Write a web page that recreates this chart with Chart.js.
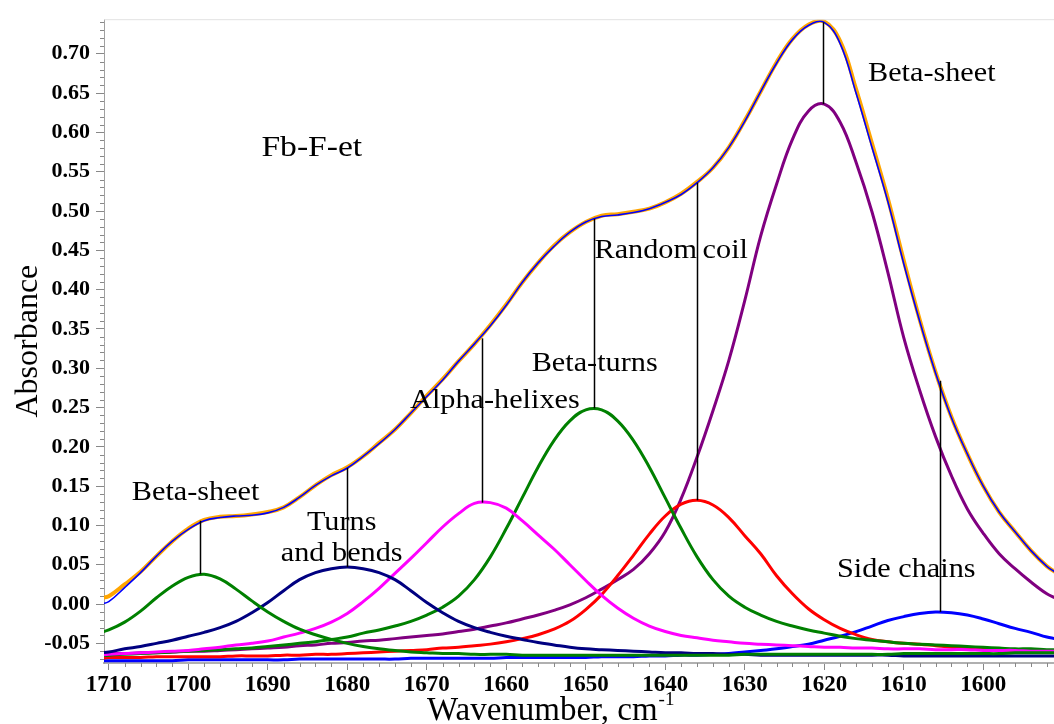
<!DOCTYPE html>
<html>
<head>
<meta charset="utf-8">
<script src="https://cdn.jsdelivr.net/npm/chart.js@4.4.1/dist/chart.umd.min.js"></script>
<style>
  html, body { margin: 0; padding: 0; background: #fff; }
</style>
</head>
<body>
<canvas id="grafica_ftir" width="1054" height="724"></canvas>
<script>
// wavenumber grid, cm-1
const wavenumbers = [
  1711, 1710, 1708, 1706, 1704, 1702, 1700, 1698, 1696, 1694,
  1692, 1690, 1688, 1686, 1684, 1682, 1680, 1678, 1676, 1674,
  1672, 1670, 1668, 1666, 1664, 1662, 1660, 1658, 1656, 1654,
  1652, 1650, 1648, 1646, 1644, 1642, 1640, 1638, 1636, 1634,
  1632, 1630, 1628, 1626, 1624, 1622, 1620, 1618, 1616, 1614,
  1612, 1610, 1608, 1606, 1604, 1602, 1600, 1598, 1596, 1594,
  1592, 1591
];

// summed fit (blue)
const fitted = [
  0.000, 0.003, 0.021, 0.040, 0.061, 0.080, 0.095, 0.106, 0.110, 0.112,
  0.113, 0.116, 0.123, 0.136, 0.151, 0.163, 0.173, 0.188, 0.204, 0.222,
  0.243, 0.264, 0.285, 0.309, 0.331, 0.354, 0.380, 0.409, 0.434, 0.455,
  0.473, 0.486, 0.493, 0.495, 0.498, 0.503, 0.511, 0.521, 0.536, 0.555,
  0.581, 0.614, 0.652, 0.688, 0.718, 0.736, 0.740, 0.713, 0.650, 0.581,
  0.512, 0.433, 0.360, 0.294, 0.237, 0.191, 0.150, 0.117, 0.092, 0.068,
  0.048, 0.041
];

// measured spectrum (orange)
const measured = [
  0.008, 0.010, 0.025, 0.041, 0.061, 0.080, 0.096, 0.107, 0.111, 0.112,
  0.114, 0.117, 0.123, 0.136, 0.151, 0.164, 0.174, 0.188, 0.205, 0.222,
  0.243, 0.265, 0.286, 0.309, 0.331, 0.355, 0.381, 0.409, 0.434, 0.456,
  0.473, 0.486, 0.494, 0.496, 0.499, 0.503, 0.511, 0.522, 0.537, 0.555,
  0.581, 0.615, 0.652, 0.689, 0.719, 0.737, 0.741, 0.716, 0.655, 0.586,
  0.516, 0.437, 0.362, 0.295, 0.238, 0.191, 0.150, 0.117, 0.092, 0.068,
  0.048, 0.041
];

// components
const betaSheetHigh = [
  -0.036, -0.033, -0.023, -0.009, 0.008, 0.023, 0.034, 0.038, 0.032, 0.019,
  0.004, -0.010, -0.022, -0.032, -0.039, -0.045, -0.050, -0.054, -0.057, -0.059,
  -0.061, -0.062, -0.063, -0.063, -0.064, -0.064, -0.064, -0.065, -0.065, -0.065,
  -0.065, -0.065, -0.065, -0.065, -0.065, -0.065, -0.065, -0.065, -0.065, -0.065,
  -0.065, -0.064, -0.064, -0.064, -0.064, -0.064, -0.064, -0.064, -0.064, -0.064,
  -0.064, -0.063, -0.063, -0.063, -0.063, -0.063, -0.063, -0.063, -0.062, -0.062,
  -0.062, -0.062
];

const turnsBends = [
  -0.062, -0.061, -0.057, -0.054, -0.050, -0.046, -0.041, -0.036, -0.030, -0.022,
  -0.011, 0.002, 0.017, 0.031, 0.040, 0.045, 0.047, 0.045, 0.040, 0.031,
  0.017, 0.002, -0.011, -0.022, -0.030, -0.036, -0.041, -0.045, -0.049, -0.052,
  -0.055, -0.057, -0.058, -0.059, -0.060, -0.061, -0.062, -0.062, -0.063, -0.063,
  -0.064, -0.064, -0.065, -0.065, -0.065, -0.065, -0.065, -0.065, -0.065, -0.065,
  -0.065, -0.066, -0.066, -0.066, -0.066, -0.066, -0.066, -0.066, -0.066, -0.066,
  -0.066, -0.066
];

const alphaHelix = [
  -0.065, -0.064, -0.063, -0.062, -0.061, -0.060, -0.059, -0.057, -0.055, -0.052,
  -0.050, -0.047, -0.042, -0.037, -0.031, -0.023, -0.012, 0.003, 0.020, 0.039,
  0.058, 0.078, 0.098, 0.115, 0.128, 0.129, 0.122, 0.106, 0.088, 0.070,
  0.050, 0.030, 0.011, -0.005, -0.018, -0.028, -0.035, -0.040, -0.043, -0.046,
  -0.048, -0.050, -0.051, -0.052, -0.053, -0.054, -0.055, -0.055, -0.056, -0.056,
  -0.057, -0.057, -0.057, -0.058, -0.058, -0.058, -0.059, -0.059, -0.059, -0.060,
  -0.060, -0.060
];

const betaTurns = [
  -0.066, -0.065, -0.064, -0.063, -0.062, -0.061, -0.060, -0.059, -0.058, -0.057,
  -0.056, -0.054, -0.052, -0.050, -0.048, -0.045, -0.042, -0.037, -0.033, -0.028,
  -0.022, -0.014, -0.004, 0.010, 0.031, 0.060, 0.096, 0.135, 0.174, 0.208,
  0.233, 0.247, 0.247, 0.233, 0.208, 0.174, 0.135, 0.096, 0.060, 0.031,
  0.010, -0.004, -0.014, -0.022, -0.028, -0.033, -0.037, -0.041, -0.044, -0.046,
  -0.048, -0.050, -0.051, -0.052, -0.053, -0.054, -0.055, -0.056, -0.057, -0.057,
  -0.058, -0.058
];

const randomCoil = [
  -0.069, -0.068, -0.068, -0.068, -0.067, -0.067, -0.067, -0.067, -0.067, -0.066,
  -0.066, -0.066, -0.065, -0.065, -0.064, -0.064, -0.063, -0.062, -0.061, -0.060,
  -0.059, -0.058, -0.056, -0.055, -0.053, -0.051, -0.048, -0.044, -0.039, -0.032,
  -0.022, -0.007, 0.012, 0.036, 0.062, 0.089, 0.112, 0.127, 0.132, 0.126,
  0.110, 0.087, 0.064, 0.036, 0.013, -0.006, -0.020, -0.031, -0.039, -0.045,
  -0.048, -0.050, -0.051, -0.053, -0.055, -0.056, -0.057, -0.058, -0.059, -0.060,
  -0.060, -0.061
];

const betaSheetLow = [
  -0.064, -0.063, -0.063, -0.062, -0.062, -0.061, -0.060, -0.060, -0.059, -0.058,
  -0.057, -0.056, -0.055, -0.053, -0.052, -0.050, -0.049, -0.047, -0.046, -0.044,
  -0.042, -0.040, -0.038, -0.035, -0.032, -0.028, -0.024, -0.019, -0.014, -0.008,
  -0.001, 0.008, 0.019, 0.031, 0.044, 0.064, 0.092, 0.134, 0.187, 0.246,
  0.310, 0.386, 0.468, 0.534, 0.591, 0.627, 0.636, 0.613, 0.562, 0.499,
  0.422, 0.339, 0.272, 0.213, 0.163, 0.121, 0.090, 0.064, 0.045, 0.028,
  0.013, 0.008
];

const sideChains = [
  -0.072, -0.072, -0.072, -0.072, -0.072, -0.072, -0.071, -0.071, -0.071, -0.071,
  -0.071, -0.071, -0.071, -0.070, -0.070, -0.070, -0.070, -0.070, -0.070, -0.070,
  -0.069, -0.069, -0.069, -0.069, -0.069, -0.069, -0.068, -0.068, -0.068, -0.068,
  -0.068, -0.068, -0.067, -0.067, -0.067, -0.066, -0.066, -0.065, -0.065, -0.064,
  -0.063, -0.061, -0.059, -0.057, -0.054, -0.051, -0.046, -0.041, -0.035, -0.028,
  -0.021, -0.016, -0.012, -0.010, -0.011, -0.014, -0.019, -0.025, -0.031, -0.036,
  -0.042, -0.044
];

// peak markers: wavenumber, absorbance on the sum, absorbance at the band top
const markerWave = [1698.5, 1680, 1663, 1649, 1636, 1620.2, 1605.5];
const markerTop = [0.106, 0.173, 0.338, 0.490, 0.536, 0.740, 0.284];
const markerBottom = [0.038, 0.047, 0.129, 0.249, 0.132, 0.636, -0.010];

// text notes, anchored in data units
const notes = [
  { text: 'Fb-F-et', w: 1690.8, a: 0.570, align: 'left', size: 30 },
  { text: 'Beta-sheet', w: 1707.1, a: 0.132, align: 'left', size: 27 },
  { text: 'Turns', w: 1680.7, a: 0.094, align: 'center', size: 27 },
  { text: 'and bends', w: 1680.7, a: 0.055, align: 'center', size: 27 },
  { text: 'Alpha-helixes', w: 1672.1, a: 0.249, align: 'left', size: 27 },
  { text: 'Beta-turns', w: 1656.8, a: 0.297, align: 'left', size: 27 },
  { text: 'Random', w: 1648.9, a: 0.440, align: 'left', size: 27 },
  { text: 'coil', w: 1635.3, a: 0.440, align: 'left', size: 27 },
  { text: 'Beta-sheet', w: 1614.5, a: 0.666, align: 'left', size: 27 },
  { text: 'Side chains', w: 1618.4, a: 0.034, align: 'left', size: 27 }
];

function series(values) {
  return wavenumbers.map((w, i) => ({ x: w, y: values[i] }));
}

const extras = {
  id: 'extras',
  afterDatasetsDraw(chart) {
    const ctx = chart.ctx;
    const xs = chart.scales.x, ys = chart.scales.y;
    ctx.save();
    ctx.strokeStyle = '#000';
    ctx.lineWidth = 1.5;
    markerWave.forEach((w, i) => {
      const x = Math.round(xs.getPixelForValue(w)) + 0.5;
      ctx.beginPath();
      ctx.moveTo(x, ys.getPixelForValue(markerTop[i]));
      ctx.lineTo(x, ys.getPixelForValue(markerBottom[i]));
      ctx.stroke();
    });
    ctx.fillStyle = '#000';
    ctx.textBaseline = 'alphabetic';
    notes.forEach(n => {
      ctx.save();
      ctx.font = n.size + 'px "Liberation Serif", "Times New Roman", serif';
      ctx.translate(xs.getPixelForValue(n.w), ys.getPixelForValue(n.a));
      ctx.scale(1.12, 1);
      ctx.textAlign = n.align;
      ctx.fillText(n.text, 0, 0);
      ctx.restore();
    });
    ctx.restore();
  },
  afterDraw(chart) {
    const ctx = chart.ctx;
    const area = chart.chartArea;
    const xs = chart.scales.x, ys = chart.scales.y;
    ctx.save();
    // thin frame line on top
    ctx.strokeStyle = '#e2e2e2';
    ctx.lineWidth = 1;
    ctx.beginPath();
    ctx.moveTo(area.left, area.top + 0.5);
    ctx.lineTo(area.right, area.top + 0.5);
    ctx.stroke();
    // minor ticks
    ctx.strokeStyle = '#888';
    for (let k = -7; k <= 74; k++) {
      if (k % 5 === 0) continue;
      const y = Math.round(ys.getPixelForValue(k / 100)) + 0.5;
      ctx.beginPath();
      ctx.moveTo(area.left - 4, y);
      ctx.lineTo(area.left, y);
      ctx.stroke();
    }
    for (let w = 1592; w <= 1710; w += 2) {
      if (w % 10 === 0) continue;
      const x = Math.round(xs.getPixelForValue(w)) + 0.5;
      ctx.beginPath();
      ctx.moveTo(x, area.bottom);
      ctx.lineTo(x, area.bottom + 4);
      ctx.stroke();
    }
    // x axis title with superscript
    ctx.fillStyle = '#000';
    ctx.textBaseline = 'alphabetic';
    ctx.font = '33px "Liberation Serif", "Times New Roman", serif';
    const main = 'Wavenumber, cm';
    const mainW = ctx.measureText(main).width;
    const x0 = area.left + 323;
    ctx.fillText(main, x0, 720);
    ctx.font = '19px "Liberation Serif", "Times New Roman", serif';
    ctx.fillText('-1', x0 + mainW + 1, 705);
    ctx.restore();
  }
};

const tickFont = { family: '"Liberation Serif", "Times New Roman", serif', weight: 'bold' };

const ctx = document.getElementById('grafica_ftir').getContext('2d');
new Chart(ctx, {
  type: 'line',
  data: {
    datasets: [
      { label: 'Fit', data: series(fitted), borderColor: '#0000ff', borderWidth: 1.6 },
      { label: 'Measured', data: series(measured), borderColor: '#ffa500', borderWidth: 4 },
      { label: 'Beta-sheet 1698', data: series(betaSheetHigh), borderColor: '#008000', borderWidth: 3 },
      { label: 'Turns and bends', data: series(turnsBends), borderColor: '#000080', borderWidth: 3 },
      { label: 'Alpha-helixes', data: series(alphaHelix), borderColor: '#ff00ff', borderWidth: 3 },
      { label: 'Beta-turns', data: series(betaTurns), borderColor: '#008000', borderWidth: 3 },
      { label: 'Random coil', data: series(randomCoil), borderColor: '#ff0000', borderWidth: 3 },
      { label: 'Beta-sheet 1620', data: series(betaSheetLow), borderColor: '#800080', borderWidth: 3 },
      { label: 'Side chains', data: series(sideChains), borderColor: '#0000ff', borderWidth: 3 }
    ]
  },
  options: {
    responsive: false,
    animation: false,
    devicePixelRatio: 1,
    layout: { padding: { top: 18, right: 0, left: 0, bottom: 0 } },
    elements: {
      point: { radius: 0 },
      line: { tension: 0.4, fill: false }
    },
    datasets: { line: { clip: 0 } },
    plugins: {
      legend: { display: false },
      tooltip: { enabled: false }
    },
    scales: {
      x: {
        type: 'linear',
        reverse: true,
        min: 1591.1,
        max: 1710.6,
        afterFit: s => { s.height = 61; },
        ticks: {
          stepSize: 10,
          includeBounds: false,
          autoSkip: false,
          maxRotation: 0,
          padding: 1,
          color: '#000',
          font: Object.assign({ size: 23 }, tickFont),
          callback: v => String(v)
        },
        grid: { display: true, drawOnChartArea: false, drawTicks: true, tickLength: 7, color: '#888' },
        border: { display: true, color: '#b0b0b0', width: 2 }
      },
      y: {
        min: -0.075,
        max: 0.744,
        afterFit: s => { s.width = 104; },
        ticks: {
          stepSize: 0.05,
          includeBounds: false,
          padding: 6,
          color: '#000',
          font: Object.assign({ size: 22 }, tickFont),
          callback: v => v.toFixed(2)
        },
        grid: { display: true, drawOnChartArea: false, drawTicks: true, tickLength: 8, color: '#888' },
        border: { display: true, color: '#a0a0a0', width: 1 },
        title: {
          display: true,
          text: 'Absorbance',
          color: '#000',
          padding: { top: 9, bottom: 0 },
          font: { family: '"Liberation Serif", "Times New Roman", serif', size: 32 }
        }
      }
    }
  },
  plugins: [extras]
});
</script>
</body>
</html>
